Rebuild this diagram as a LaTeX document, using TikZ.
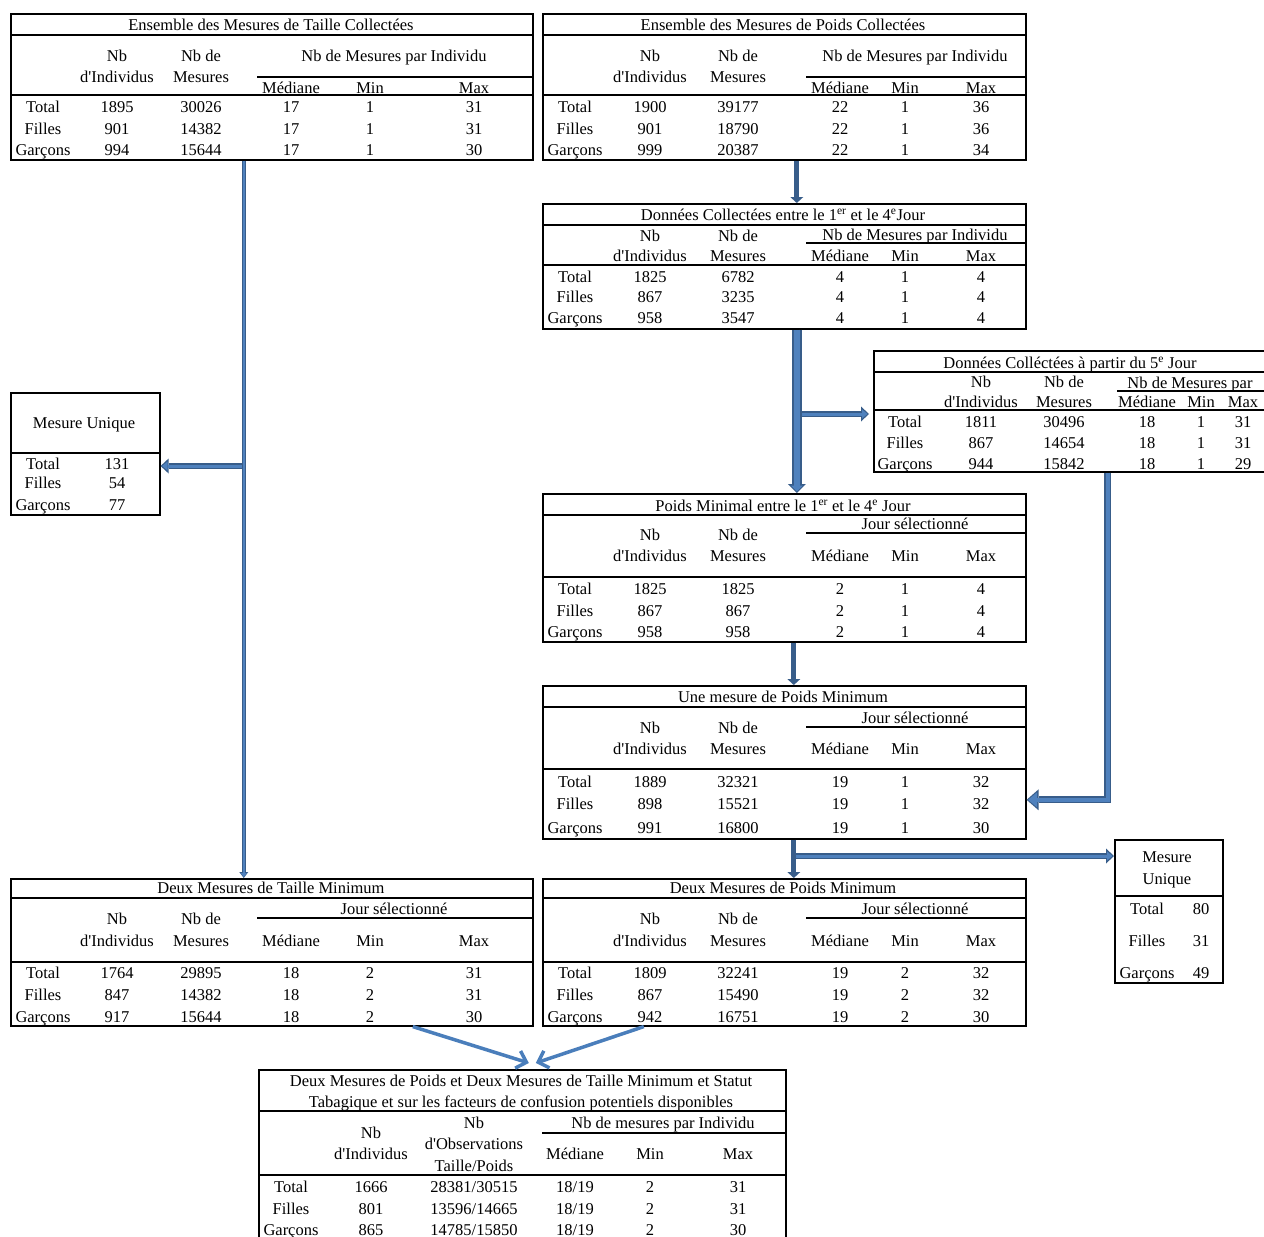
\documentclass[tikz,border=0pt]{standalone}
\usepackage{fontspec}
\setmainfont{Liberation Serif}
\usetikzlibrary{arrows.meta}

\definecolor{arrowdark}{HTML}{385D8A}
\definecolor{arrowfill}{HTML}{4F81BD}
\definecolor{mergeblue}{HTML}{4A7EBB}

\tikzset{
  tablebox/.style={draw, line width=1.6pt, inner sep=0pt, anchor=north west},
  tablerule/.style={line width=1.6pt},
  tabcell/.style={inner sep=0pt, text height=13pt, text depth=0pt,
    font=\fontsize{16.5}{19}\selectfont},
  solidarrow/.style={draw=arrowdark, line width=5pt,
    -{Triangle[length=6pt, width=13pt, line width=0pt]}},
  wideblock/.style={draw=arrowfill, line width=5.5pt, shorten >=1.5pt,
    -{Triangle[length=6pt, width=12pt, line width=0pt]},
    preaction={draw=arrowdark, line width=9.5pt, shorten >=0pt,
      -{Triangle[length=9pt, width=18pt, line width=0pt]}}},
  sideblock/.style={draw=arrowfill, line width=3pt, shorten >=1.5pt,
    -{Triangle[length=5.5pt, width=9pt, line width=0pt]},
    preaction={draw=arrowdark, line width=6.5pt, shorten >=0pt,
      -{Triangle[length=8pt, width=15pt, line width=0pt]}}},
  elbowblock/.style={draw=arrowfill, line width=3.5pt, shorten >=1.5pt,
    -{Triangle[length=9pt, width=15pt, line width=0pt]},
    preaction={draw=arrowdark, line width=7pt, shorten >=0pt,
      -{Triangle[length=12pt, width=21pt, line width=0pt]}}},
  thinblock/.style={draw=arrowfill, line width=2pt, shorten >=1pt,
    -{Triangle[length=4pt, width=6pt, line width=0pt]},
    preaction={draw=arrowdark, line width=4.5pt, shorten >=0pt,
      -{Triangle[length=6pt, width=9pt, line width=0pt]}}},
  mergearrow/.style={draw=mergeblue, line width=3.5pt,
    -{Straight Barb[length=9pt, width=18pt]}}
}

\newcommand{\tcell}[4]{\node[tabcell] (#1-#2-#3) at (#2,#3) {#4};}
\newcommand{\datarows}[3]{%
  \foreach \ry/\rv in {#3}{%
    \foreach \v [count=\i] in \rv{%
      \pgfmathsetmacro{\cx}{{#2}[\i-1]}%
      \node[tabcell] (#1-\i-\ry) at (\cx,\ry) {\v};}}}

\begin{document}
\begin{tikzpicture}[x=1pt, y=-1pt]
\fill[white] (0,0) rectangle (1264,1237);
\useasboundingbox (0,0) rectangle (1264,1237);

% tables de taille (colonne gauche)
\node[tablebox, minimum width=522pt, minimum height=146pt] (taille) at (10,13) {};
\node[tablebox, minimum width=522pt, minimum height=147pt] (deuxtaille) at (10,878) {};
\foreach \ya/\yb/\yc in {35/77/95, 898/918/962}
  \draw[tablerule] (10,\ya) -- (532,\ya) (257,\yb) -- (532,\yb) (10,\yc) -- (532,\yc);
\foreach \tb/\ya/\yb/\ym in {taille/55/76/87, deuxtaille/918/940/940}{
  \tcell{\tb}{117}{\ya}{Nb} \tcell{\tb}{117}{\yb}{d\textquotesingle Individus}
  \tcell{\tb}{201}{\ya}{Nb de} \tcell{\tb}{201}{\yb}{Mesures}
  \tcell{\tb}{291}{\ym}{Médiane} \tcell{\tb}{370}{\ym}{Min} \tcell{\tb}{474}{\ym}{Max}}
\tcell{taille}{271}{24}{Ensemble des Mesures de Taille Collectées}
\tcell{taille}{394}{55}{Nb de Mesures par Individu}
\datarows{taille}{43,117,201,291,370,474}{106/{Total,1895,30026,17,1,31},
  128/{Filles,901,14382,17,1,31}, 149/{Garçons,994,15644,17,1,30}}
\tcell{deuxtaille}{271}{887}{Deux Mesures de Taille Minimum}
\tcell{deuxtaille}{394}{908}{Jour sélectionné}
\datarows{deuxtaille}{43,117,201,291,370,474}{972/{Total,1764,29895,18,2,31},
  994/{Filles,847,14382,18,2,31}, 1016/{Garçons,917,15644,18,2,30}}

% mesure unique (taille)
\node[tablebox, minimum width=149pt, minimum height=122pt] (unique1) at (10,392) {};
\draw[tablerule] (10,453) -- (159,453);
\tcell{unique1}{84}{422}{Mesure Unique}
\datarows{unique1}{43,117}{463/{Total,131}, 482/{Filles,54}, 504/{Garçons,77}}

% tables de poids (colonne centrale)
\foreach \tb/\ytop/\ybot/\ya/\yb/\yc in {poids/13/159/35/77/95, jours/203/328/225/243/265,
    minimal/493/641/515/533/577, une/685/838/707/727/769, deuxpoids/878/1025/898/918/962}{
  \node[tablebox, minimum width=483pt, minimum height=(\ybot-\ytop)*1pt] (\tb) at (542,\ytop) {};
  \draw[tablerule] (542,\ya) -- (1025,\ya) (806,\yb) -- (1025,\yb) (542,\yc) -- (1025,\yc);}
\foreach \tb/\ya/\yb/\ym in {poids/55/76/87, jours/235/255/255, minimal/534/555/555,
    une/727/748/748, deuxpoids/918/940/940}{
  \tcell{\tb}{650}{\ya}{Nb} \tcell{\tb}{650}{\yb}{d\textquotesingle Individus}
  \tcell{\tb}{738}{\ya}{Nb de} \tcell{\tb}{738}{\yb}{Mesures}
  \tcell{\tb}{840}{\ym}{Médiane} \tcell{\tb}{905}{\ym}{Min} \tcell{\tb}{981}{\ym}{Max}}

\tcell{poids}{783}{24}{Ensemble des Mesures de Poids Collectées}
\tcell{poids}{915}{55}{Nb de Mesures par Individu}
\datarows{poids}{575,650,738,840,905,981}{106/{Total,1900,39177,22,1,36},
  128/{Filles,901,18790,22,1,36}, 149/{Garçons,999,20387,22,1,34}}

\tcell{jours}{783}{214}{Données Collectées entre le 1\textsuperscript{er} et le 4\textsuperscript{e}Jour}
\tcell{jours}{915}{234}{Nb de Mesures par Individu}
\datarows{jours}{575,650,738,840,905,981}{276/{Total,1825,6782,4,1,4},
  296/{Filles,867,3235,4,1,4}, 317/{Garçons,958,3547,4,1,4}}

\tcell{minimal}{783}{505}{Poids Minimal entre le 1\textsuperscript{er} et le 4\textsuperscript{e} Jour}
\tcell{minimal}{915}{523}{Jour sélectionné}
\datarows{minimal}{575,650,738,840,905,981}{588/{Total,1825,1825,2,1,4},
  610/{Filles,867,867,2,1,4}, 631/{Garçons,958,958,2,1,4}}

\tcell{une}{783}{696}{Une mesure de Poids Minimum}
\tcell{une}{915}{717}{Jour sélectionné}
\datarows{une}{575,650,738,840,905,981}{781/{Total,1889,32321,19,1,32},
  803/{Filles,898,15521,19,1,32}, 827/{Garçons,991,16800,19,1,30}}

\tcell{deuxpoids}{783}{887}{Deux Mesures de Poids Minimum}
\tcell{deuxpoids}{915}{908}{Jour sélectionné}
\datarows{deuxpoids}{575,650,738,840,905,981}{972/{Total,1809,32241,19,2,32},
  994/{Filles,867,15490,19,2,32}, 1016/{Garçons,942,16751,19,2,30}}

% a partir du 5e jour
\node[tablebox, minimum width=393pt, minimum height=121pt] (cinq) at (873,350) {};
\draw[tablerule] (873,372) -- (1266,372) (1117,391) -- (1266,391) (873,410) -- (1266,410);
\tcell{cinq}{1070}{362}{Données Colléctées à partir du 5\textsuperscript{e} Jour}
\tcell{cinq}{981}{381}{Nb} \tcell{cinq}{981}{401}{d\textquotesingle Individus}
\tcell{cinq}{1064}{381}{Nb de} \tcell{cinq}{1064}{401}{Mesures}
\tcell{cinq}{1190}{382}{Nb de Mesures par}
\tcell{cinq}{1147}{401}{Médiane} \tcell{cinq}{1201}{401}{Min} \tcell{cinq}{1243}{401}{Max}
\datarows{cinq}{905,981,1064,1147,1201,1243}{421/{Total,1811,30496,18,1,31},
  442/{Filles,867,14654,18,1,31}, 463/{Garçons,944,15842,18,1,29}}

% mesure unique (poids)
\node[tablebox, minimum width=108pt, minimum height=143pt] (unique2) at (1114,839) {};
\draw[tablerule] (1114,896) -- (1222,896);
\tcell{unique2}{1167}{856}{Mesure} \tcell{unique2}{1167}{878}{Unique}
\datarows{unique2}{1147,1201}{908/{Total,80}, 940/{Filles,31}, 972/{Garçons,49}}

% table finale
\node[tablebox, minimum width=527pt, minimum height=169pt] (final) at (258,1069) {};
\draw[tablerule] (258,1111) -- (785,1111) (542,1133) -- (785,1133) (258,1175) -- (785,1175);
\tcell{final}{521}{1080}{Deux Mesures de Poids et Deux Mesures de Taille Minimum et Statut}
\tcell{final}{521}{1101}{Tabagique et sur les facteurs de confusion potentiels disponibles}
\tcell{final}{663}{1122}{Nb de mesures par Individu}
\tcell{final}{371}{1132}{Nb} \tcell{final}{371}{1153}{d\textquotesingle Individus}
\tcell{final}{474}{1122}{Nb} \tcell{final}{474}{1143}{d\textquotesingle Observations}
\tcell{final}{474}{1165}{Taille/Poids}
\tcell{final}{575}{1153}{Médiane} \tcell{final}{650}{1153}{Min} \tcell{final}{738}{1153}{Max}
\datarows{final}{291,371,474,575,650,738}{1186/{Total,1666,28381/30515,18/19,2,31},
  1208/{Filles,801,13596/14665,18/19,2,31}, 1229/{Garçons,865,14785/15850,18/19,2,30}}

% fleches
\coordinate (split1) at (243,466);
\coordinate (split2) at (796,414);
\coordinate (split3) at (793,856);
\draw[sideblock] (split1) -- (split1 -| unique1.east);
\draw[thinblock] ([xshift=-28pt]taille.south) -- ([xshift=-28pt]deuxtaille.north);
\draw[solidarrow] ([xshift=12.5pt]poids.south) -- ([xshift=12.5pt]jours.north);
\draw[sideblock] (split2) -- ([xshift=-4pt]cinq.west |- split2);
\draw[wideblock] ([xshift=12.5pt]jours.south) -- ([xshift=12.5pt]minimal.north);
\draw[solidarrow] ([xshift=9.5pt]minimal.south) -- ([xshift=9.5pt]une.north);
\draw[elbowblock] ([xshift=37.5pt]cinq.south) |- ([yshift=-37.5pt]une.east);
\draw[sideblock] (split3) -- (split3 -| unique2.west);
\draw[solidarrow] ([xshift=9.5pt]une.south) -- ([xshift=9.5pt]deuxpoids.north);
\draw[mergearrow] ([xshift=141pt]deuxtaille.south) -- ([xshift=6.5pt, yshift=6pt]final.north);
\draw[mergearrow] ([xshift=-140.5pt]deuxpoids.south) -- ([xshift=13.5pt, yshift=6pt]final.north);
\end{tikzpicture}
\end{document}
